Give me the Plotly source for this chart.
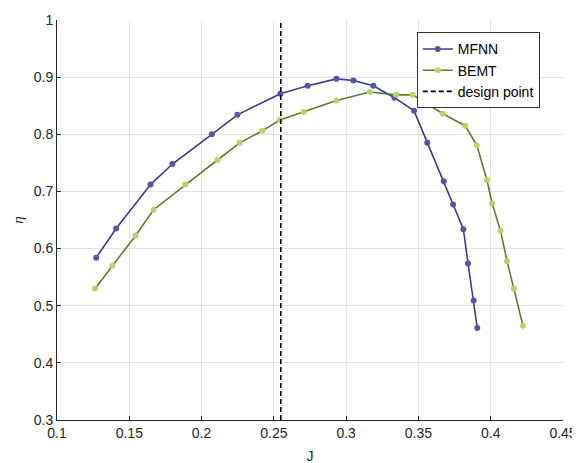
import plotly.graph_objects as go

mfnn_J = [0.1271, 0.1409, 0.1647, 0.1798, 0.2071, 0.2248, 0.2545, 0.2734, 0.2933, 0.3050,
          0.3188, 0.3334, 0.3470, 0.3561, 0.3675, 0.3740, 0.3811, 0.3843, 0.3882, 0.3907]
mfnn_eta = [0.584, 0.635, 0.712, 0.748, 0.800, 0.834, 0.871, 0.885, 0.897, 0.894,
            0.885, 0.864, 0.841, 0.785, 0.718, 0.677, 0.634, 0.574, 0.509, 0.461]

bemt_J = [0.1264, 0.1383, 0.1544, 0.1668, 0.1888, 0.2110, 0.2264, 0.2420, 0.2541, 0.2706,
          0.2933, 0.3164, 0.3346, 0.3460, 0.3669, 0.3823, 0.3903, 0.3974, 0.4010, 0.4068,
          0.4113, 0.4160, 0.4223]
bemt_eta = [0.530, 0.570, 0.623, 0.668, 0.712, 0.755, 0.785, 0.806, 0.825, 0.839,
            0.859, 0.874, 0.869, 0.869, 0.836, 0.815, 0.781, 0.720, 0.679, 0.631,
            0.578, 0.530, 0.465]

design_J = 0.2548
y_range = [0.3, 1.0]
x_range = [0.1, 0.45]
x_ticks = [0.1, 0.15, 0.2, 0.25, 0.3, 0.35, 0.4, 0.45]
x_ticklabels = ["0.1", "0.15", "0.2", "0.25", "0.3", "0.35", "0.4", "0.45"]
y_ticks = [0.3, 0.4, 0.5, 0.6, 0.7, 0.8, 0.9, 1.0]
y_ticklabels = ["0.3", "0.4", "0.5", "0.6", "0.7", "0.8", "0.9", "1"]

fig = go.Figure()
fig.add_trace(go.Scatter(
    x=mfnn_J, y=mfnn_eta, mode="lines+markers", name="MFNN",
    line=dict(color="#3a3b8c", width=1.6),
    marker=dict(color="#5456aa", size=6),
))
fig.add_trace(go.Scatter(
    x=bemt_J, y=bemt_eta, mode="lines+markers", name="BEMT",
    line=dict(color="#5e7b34", width=1.6),
    marker=dict(color="#b6d46a", size=6),
))
fig.add_trace(go.Scatter(
    x=[design_J, design_J], y=y_range, mode="lines", name="design point",
    line=dict(color="black", width=1.6, dash="5px,3px"),
))

axis_common = dict(
    showgrid=True, gridcolor="#e3e3e3", gridwidth=1,
    showline=True, linecolor="#262626", linewidth=1,
    ticks="inside", ticklen=4, tickcolor="#262626",
    zeroline=False, mirror=False,
    tickfont=dict(family="Liberation Sans, Arial", size=14, color="#262626"),
)

# page body adds an 8px offset; margins compensate so the plot area sits at x 57-563, y 20-420
fig.update_layout(
    width=580, height=463,
    margin=dict(l=49, r=25, t=12, b=51),
    paper_bgcolor="white", plot_bgcolor="white",
    showlegend=True,
    legend=dict(
        x=0.711, y=0.969, xanchor="left", yanchor="top",
        bgcolor="white", bordercolor="#333333", borderwidth=1,
        font=dict(family="Liberation Sans, Arial", size=14, color="black"),
        tracegroupgap=0, itemwidth=30,
    ),
    xaxis=dict(range=x_range, tickvals=x_ticks, ticktext=x_ticklabels,
               title=dict(text="J", standoff=11,
                          font=dict(family="Liberation Sans, Arial", size=14, color="#262626")),
               automargin=False, **axis_common),
    yaxis=dict(range=y_range, tickvals=y_ticks, ticktext=y_ticklabels,
               title=dict(text="<i>η</i>", standoff=6,
                          font=dict(family="Liberation Serif, Times New Roman", size=15, color="#262626")),
               automargin=False, **axis_common),
)

fig.write_html("out.html")
